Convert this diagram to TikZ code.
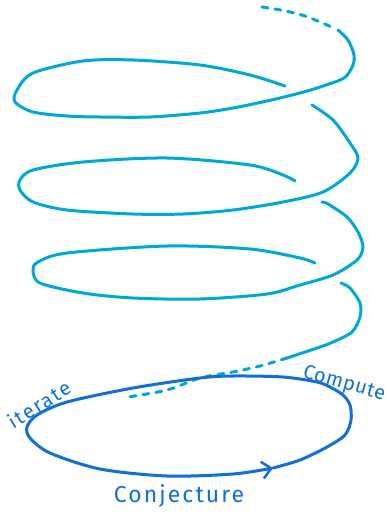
\documentclass[tikz,border=0pt]{standalone}
\usepackage{fontspec}
\setmainfont{Fira Sans}
\newfontfamily\handfont[LetterSpace=9]{Fira Sans}
\newfontfamily\handfontnarrow[LetterSpace=3]{Fira Sans}
\usepackage{tikz}
\usetikzlibrary{arrows.meta}
\definecolor{coilblue}{RGB}{0,168,216}
\definecolor{loopblue}{RGB}{16,112,216}
\tikzset{
  coil/.style={coilblue, line width=3pt, line cap=round, line join=round},
  coildash/.style={coil, dash pattern=on 6pt off 7pt},
  cycleloop/.style={loopblue, line width=3pt, line cap=round, line join=round,
              -{Straight Barb[length=9pt,width=17pt,line width=2.6pt]}},
  steplbl/.style={text=loopblue, inner sep=0pt},
}

\begin{document}
\begin{tikzpicture}[x=1pt,y=-1pt]
  \useasboundingbox (0,0) rectangle (387,517);
  \draw[coildash] plot[smooth] coordinates {(262,7) (275,9) (290,12) (305,16) (320,22) (336,29)};
  \draw[coil] plot[smooth] coordinates {(338,30) (348,40) (354,55) (353,65) (344,78) (320,87)
    (300,93) (267,101) (233,108) (200,113) (150,117) (100,117) (67,116) (33,112) (15,102)
    (17,90) (33,73) (83,61) (133,60) (200,65) (250,75) (285,86)};
  \draw[coil] plot[smooth] coordinates {(312,105) (333,120) (350,143) (358,158) (350,173)
    (323,192) (283,202) (233,210) (183,214) (133,214) (67,210) (33,202) (20,190) (20,180)
    (33,170) (83,162) (167,158) (250,165) (283,175) (295,181)};
  \draw[coil] plot[smooth] coordinates {(322,202) (328,204) (347,217) (358,232) (363,247)
    (357,260) (333,275) (300,285) (267,294) (200,299) (133,298) (83,293) (40,283) (33,270)
    (38,262) (67,253) (167,246) (250,249) (300,258) (315,263)};
  \draw[coil] plot[smooth] coordinates {(341,283) (350,288) (360,303) (360,317) (352,332)
    (333,342) (317,348) (287,358)};
  \draw[coildash] plot[smooth] coordinates {(287,358) (260,366) (233,372) (200,378)
    (167,390) (128,397)};
  \draw[cycleloop] plot[smooth] coordinates {(273,468) (300,460) (327,447) (345,435)
    (351,420) (350,405) (343,395) (330,387) (317,382) (283,377) (233,376) (200,378)
    (133,388) (67,402) (37,415) (27,427) (30,438) (50,453) (100,469) (167,476)
    (233,474) (273,468)};
  \node[steplbl, font=\handfont\fontsize{20}{20}\selectfont, rotate=32] (iter) at (39,404) {iterate};
  \node[steplbl, font=\handfontnarrow\fontsize{20}{20}\selectfont, rotate=-16] (comp) at (344,384) {Compute};
  \node[steplbl, font=\handfont\fontsize{23}{23}\selectfont] (conj) at (179,496) {Conjecture};
\end{tikzpicture}
\end{document}
